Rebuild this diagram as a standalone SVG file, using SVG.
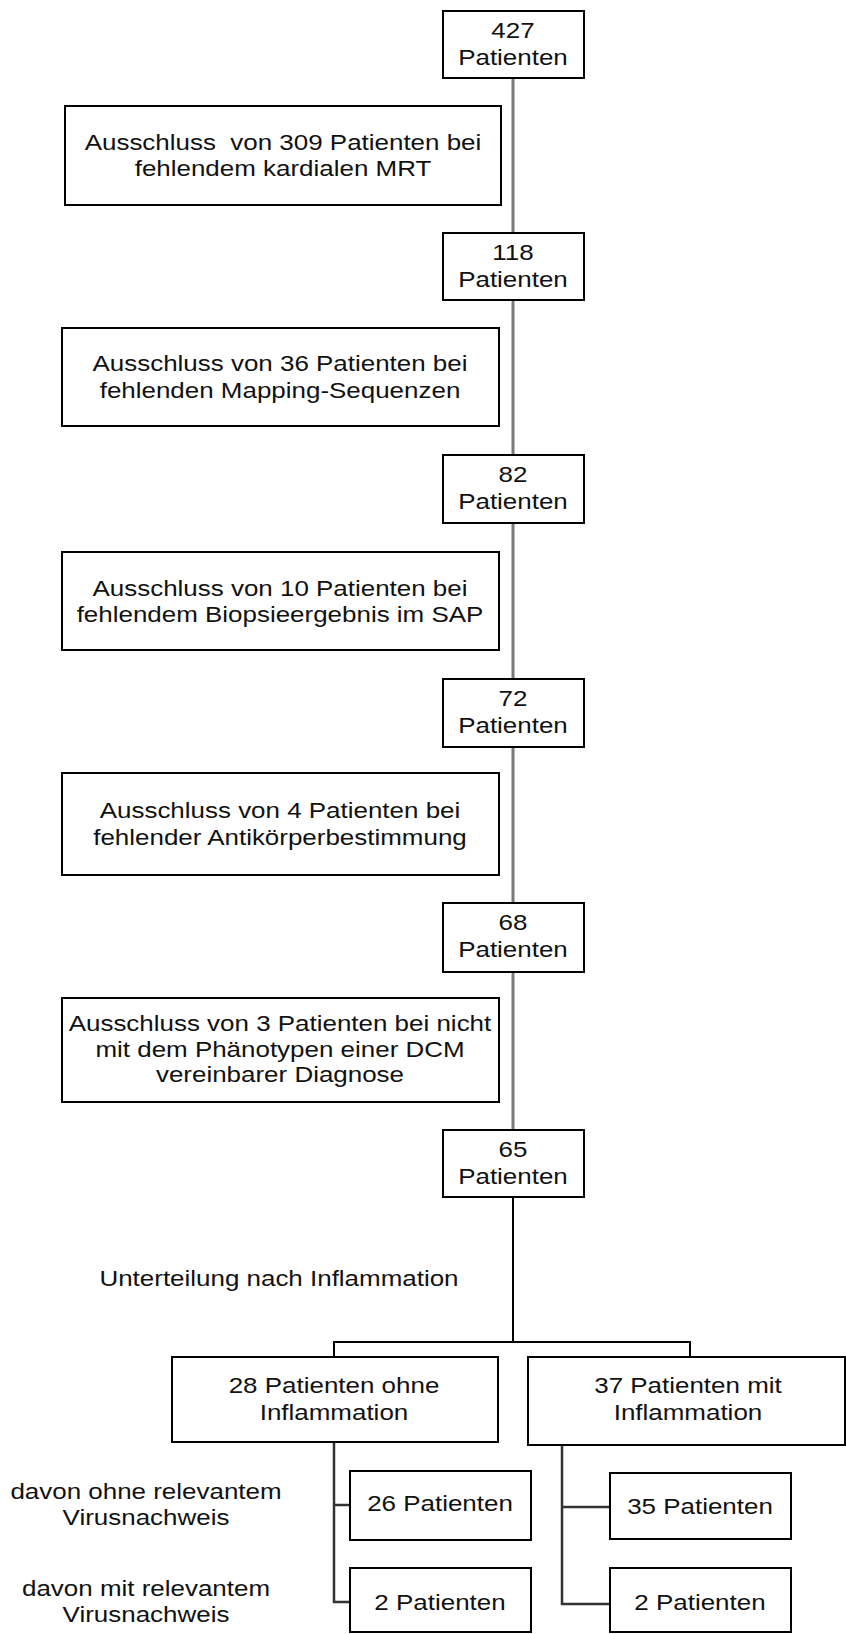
<svg xmlns="http://www.w3.org/2000/svg" width="846" height="1634" viewBox="0 0 846 1634">
<style>
  .box { fill: #ffffff; stroke: #000000; stroke-width: 2; }
  .t { font-family: "Liberation Sans", Arial, sans-serif; font-size: 22px; fill: #111111; text-anchor: middle; transform: scaleX(1.18); transform-box: fill-box; transform-origin: center; }
  .main { stroke: #7a7a7a; stroke-width: 3; fill: none; }
  .conn { stroke: #000000; stroke-width: 2; fill: none; }
  .sub { stroke: #333333; stroke-width: 2.5; fill: none; }
</style>
<rect x="0" y="0" width="846" height="1634" fill="#ffffff"/>
<g id="connectors">
  <line class="main" x1="513" y1="78" x2="513" y2="1130"/>
  <line class="conn" x1="513" y1="1197" x2="513" y2="1342"/>
  <polyline class="conn" points="334,1357 334,1342 690,1342 690,1357"/>
  <polyline class="sub" points="334,1442 334,1602 350,1602"/>
  <line class="sub" x1="334" y1="1505" x2="350" y2="1505"/>
  <polyline class="sub" points="562,1445 562,1604 610,1604"/>
  <line class="sub" x1="562" y1="1507" x2="610" y2="1507"/>
</g>
<g id="n427">
  <rect class="box" x="443" y="11" width="141" height="67"/>
  <text class="t" x="513" y="38">427</text>
  <text class="t" x="513" y="65">Patienten</text>
</g>
<g id="excl1">
  <rect class="box" x="65" y="106" width="436" height="99"/>
  <text class="t" x="283" y="150" xml:space="preserve">Ausschluss  von 309 Patienten bei</text>
  <text class="t" x="283" y="176">fehlendem kardialen MRT</text>
</g>
<g id="n118">
  <rect class="box" x="443" y="233" width="141" height="67"/>
  <text class="t" x="513" y="260">118</text>
  <text class="t" x="513" y="287">Patienten</text>
</g>
<g id="excl2">
  <rect class="box" x="62" y="328" width="437" height="98"/>
  <text class="t" x="280" y="371">Ausschluss von 36 Patienten bei</text>
  <text class="t" x="280" y="398">fehlenden Mapping-Sequenzen</text>
</g>
<g id="n82">
  <rect class="box" x="443" y="455" width="141" height="68"/>
  <text class="t" x="513" y="482">82</text>
  <text class="t" x="513" y="509">Patienten</text>
</g>
<g id="excl3">
  <rect class="box" x="62" y="552" width="437" height="98"/>
  <text class="t" x="280" y="596">Ausschluss von 10 Patienten bei</text>
  <text class="t" x="280" y="622">fehlendem Biopsieergebnis im SAP</text>
</g>
<g id="n72">
  <rect class="box" x="443" y="679" width="141" height="68"/>
  <text class="t" x="513" y="706">72</text>
  <text class="t" x="513" y="733">Patienten</text>
</g>
<g id="excl4">
  <rect class="box" x="62" y="773" width="437" height="102"/>
  <text class="t" x="280" y="818">Ausschluss von 4 Patienten bei</text>
  <text class="t" x="280" y="845">fehlender Antikörperbestimmung</text>
</g>
<g id="n68">
  <rect class="box" x="443" y="903" width="141" height="69"/>
  <text class="t" x="513" y="930">68</text>
  <text class="t" x="513" y="957">Patienten</text>
</g>
<g id="excl5">
  <rect class="box" x="62" y="998" width="437" height="104"/>
  <text class="t" x="280" y="1031">Ausschluss von 3 Patienten bei nicht</text>
  <text class="t" x="280" y="1057">mit dem Phänotypen einer DCM</text>
  <text class="t" x="280" y="1082">vereinbarer Diagnose</text>
</g>
<g id="n65">
  <rect class="box" x="443" y="1130" width="141" height="67"/>
  <text class="t" x="513" y="1157">65</text>
  <text class="t" x="513" y="1184">Patienten</text>
</g>
<g id="label-split">
  <text class="t" x="279" y="1286">Unterteilung nach Inflammation</text>
</g>
<g id="n28">
  <rect class="box" x="172" y="1357" width="326" height="85"/>
  <text class="t" x="334" y="1393">28 Patienten ohne</text>
  <text class="t" x="334" y="1420">Inflammation</text>
</g>
<g id="n37">
  <rect class="box" x="528" y="1357" width="317" height="88"/>
  <text class="t" x="688" y="1393">37 Patienten mit</text>
  <text class="t" x="688" y="1420">Inflammation</text>
</g>
<g id="label-ohne">
  <text class="t" x="146" y="1499">davon ohne relevantem</text>
  <text class="t" x="146" y="1525">Virusnachweis</text>
</g>
<g id="label-mit">
  <text class="t" x="146" y="1596">davon mit relevantem</text>
  <text class="t" x="146" y="1622">Virusnachweis</text>
</g>
<g id="n26">
  <rect class="box" x="350" y="1471" width="181" height="69"/>
  <text class="t" x="440" y="1511">26 Patienten</text>
</g>
<g id="n2a">
  <rect class="box" x="350" y="1568" width="181" height="64"/>
  <text class="t" x="440" y="1610">2 Patienten</text>
</g>
<g id="n35">
  <rect class="box" x="610" y="1473" width="181" height="66"/>
  <text class="t" x="700" y="1514">35 Patienten</text>
</g>
<g id="n2b">
  <rect class="box" x="610" y="1568" width="181" height="64"/>
  <text class="t" x="700" y="1610">2 Patienten</text>
</g>
</svg>
